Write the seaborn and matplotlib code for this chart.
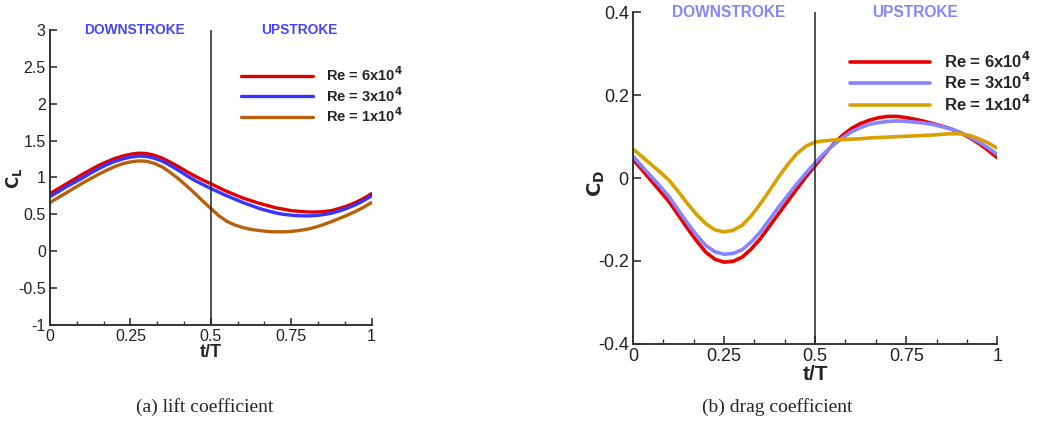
import numpy as np
import pandas as pd
import matplotlib
matplotlib.use('Agg')
import matplotlib.pyplot as plt
import seaborn as sns
from matplotlib.ticker import MultipleLocator

sns.set_style('ticks')
plt.rcParams['font.family'] = ['Liberation Sans', 'DejaVu Sans']
plt.rcParams['mathtext.default'] = 'bf'

# --- data (t/T every 0.025) ---
t = [0.0, 0.025, 0.05, 0.075, 0.10, 0.125, 0.15, 0.175, 0.20, 0.225,
     0.25, 0.275, 0.30, 0.325, 0.35, 0.375, 0.40, 0.425, 0.45, 0.475,
     0.50, 0.525, 0.55, 0.575, 0.60, 0.625, 0.65, 0.675, 0.70, 0.725,
     0.75, 0.775, 0.80, 0.825, 0.85, 0.875, 0.90, 0.925, 0.95, 0.975, 1.0]
labels = ['Re = 6x10$^4$', 'Re = 3x10$^4$', 'Re = 1x10$^4$']

# lift coefficient
cl_6e4 = [0.78, 0.845, 0.91, 0.975, 1.04, 1.10, 1.16, 1.21, 1.255, 1.29,
          1.315, 1.33, 1.325, 1.30, 1.26, 1.205, 1.145, 1.08, 1.02, 0.965,
          0.915, 0.86, 0.81, 0.765, 0.72, 0.685, 0.65, 0.62, 0.59, 0.57,
          0.55, 0.54, 0.532, 0.53, 0.537, 0.55, 0.58, 0.615, 0.66, 0.715, 0.78]
cl_3e4 = [0.74, 0.805, 0.87, 0.93, 0.99, 1.055, 1.115, 1.17, 1.215, 1.25,
          1.275, 1.29, 1.285, 1.26, 1.22, 1.16, 1.095, 1.025, 0.96, 0.905,
          0.85, 0.80, 0.75, 0.705, 0.66, 0.62, 0.58, 0.55, 0.52, 0.50,
          0.488, 0.48, 0.478, 0.483, 0.495, 0.515, 0.545, 0.585, 0.63, 0.685, 0.75]
cl_1e4 = [0.66, 0.725, 0.79, 0.855, 0.92, 0.98, 1.04, 1.095, 1.145, 1.185,
          1.21, 1.225, 1.22, 1.19, 1.14, 1.065, 0.98, 0.885, 0.785, 0.68,
          0.58, 0.48, 0.405, 0.355, 0.32, 0.295, 0.28, 0.268, 0.262, 0.262,
          0.268, 0.28, 0.298, 0.325, 0.36, 0.40, 0.445, 0.49, 0.54, 0.595, 0.66]

# drag coefficient
cd_6e4 = [0.045, 0.020, -0.006, -0.032, -0.058, -0.090, -0.122, -0.152, -0.179, -0.196,
          -0.203, -0.201, -0.191, -0.171, -0.146, -0.116, -0.086, -0.056, -0.026, 0.003,
          0.030, 0.057, 0.082, 0.103, 0.120, 0.132, 0.140, 0.146, 0.149, 0.149,
          0.146, 0.142, 0.137, 0.131, 0.125, 0.118, 0.109, 0.097, 0.083, 0.067, 0.049]
cd_3e4 = [0.053, 0.028, 0.004, -0.020, -0.046, -0.078, -0.109, -0.138, -0.163, -0.178,
          -0.184, -0.182, -0.173, -0.154, -0.130, -0.100, -0.070, -0.042, -0.014, 0.012,
          0.037, 0.060, 0.080, 0.097, 0.112, 0.122, 0.130, 0.134, 0.137, 0.138,
          0.137, 0.135, 0.133, 0.129, 0.124, 0.118, 0.110, 0.099, 0.087, 0.073, 0.057]
cd_1e4 = [0.070, 0.052, 0.033, 0.014, -0.006, -0.033, -0.062, -0.088, -0.110, -0.125,
          -0.130, -0.126, -0.114, -0.091, -0.062, -0.030, 0.003, 0.033, 0.059, 0.077,
          0.087, 0.090, 0.092, 0.093, 0.094, 0.095, 0.097, 0.098, 0.099, 0.100,
          0.101, 0.102, 0.103, 0.104, 0.106, 0.107, 0.107, 0.103, 0.095, 0.085, 0.072]

n = len(t)
df_cl = pd.DataFrame({'t': t * 3, 'val': cl_6e4 + cl_3e4 + cl_1e4,
                      'Re': [labels[0]] * n + [labels[1]] * n + [labels[2]] * n})
df_cd = pd.DataFrame({'t': t * 3, 'val': cd_6e4 + cd_3e4 + cd_1e4,
                      'Re': [labels[0]] * n + [labels[1]] * n + [labels[2]] * n})

pal_cl = dict(zip(labels, ['#e00000', '#3535ff', '#b8600c']))
pal_cd = dict(zip(labels, ['#e80000', '#8585ff', '#d8a000']))

fig = plt.figure(figsize=(10.41, 4.23), dpi=100)
ax1 = fig.add_axes([0.048, 0.232, 0.309, 0.697])
ax2 = fig.add_axes([0.608, 0.1875, 0.350, 0.783])


def style_axis(ax, fs, tl):
    sns.despine(ax=ax)
    for s in ['left', 'bottom']:
        ax.spines[s].set_linewidth(1.4)
        ax.spines[s].set_color('#333333')
    ax.set_xlim(0, 1)
    ax.set_xticks([0, 0.25, 0.5, 0.75, 1])
    ax.set_xticklabels(['0', '0.25', '0.5', '0.75', '1'])
    ax.xaxis.set_minor_locator(MultipleLocator(0.25 / 3))
    ax.tick_params(axis='both', which='major', direction='in', length=tl, width=1.2,
                   labelsize=fs, colors='#333333', labelcolor='#222222', pad=3)
    ax.tick_params(axis='x', which='minor', direction='in', length=tl * 0.6, width=1.0,
                   colors='#333333')
    ax.axvline(0.5, color='#222222', lw=1.1)


# (a) lift
sns.lineplot(data=df_cl, x='t', y='val', hue='Re', palette=pal_cl, lw=2.4, ax=ax1)
style_axis(ax1, 11.5, 5)
ax1.set_ylim(-1, 3)
ax1.set_yticks([-1, -0.5, 0, 0.5, 1, 1.5, 2, 2.5, 3])
ax1.set_yticklabels(['-1', '-0.5', '0', '0.5', '1', '1.5', '2', '2.5', '3'])
ax1.set_xlabel('t/T', fontsize=13, fontweight='bold', labelpad=0)
ax1.set_ylabel('$C_L$', fontsize=12)
ax1.yaxis.set_label_coords(-0.081, 0.497)
ax1.text(0.264, 3.0, 'DOWNSTROKE', color='#4545ff', fontsize=9.9, fontweight='bold', ha='center', va='center')
ax1.text(0.774, 3.0, 'UPSTROKE', color='#4545ff', fontsize=9.9, fontweight='bold', ha='center', va='center')
ax1.legend(frameon=False, loc='upper left', bbox_to_anchor=(0.595, 0.88), borderpad=0, borderaxespad=0,
           handlelength=4.9, handletextpad=0.9, labelspacing=0.12, prop={'weight': 'bold', 'size': 10.5})

# (b) drag
sns.lineplot(data=df_cd, x='t', y='val', hue='Re', palette=pal_cd, lw=2.6, ax=ax2)
style_axis(ax2, 13, 6)
ax2.set_ylim(-0.4, 0.4)
ax2.set_yticks([-0.4, -0.2, 0, 0.2, 0.4])
ax2.set_yticklabels(['-0.4', '-0.2', '0', '0.2', '0.4'])
ax2.set_xlabel('t/T', fontsize=15, fontweight='bold', labelpad=0)
ax2.set_ylabel('$C_D$', fontsize=14)
ax2.yaxis.set_label_coords(-0.071, 0.485)
ax2.text(0.264, 0.4, 'DOWNSTROKE', color='#8585ff', fontsize=11.2, fontweight='bold', ha='center', va='center')
ax2.text(0.774, 0.4, 'UPSTROKE', color='#8585ff', fontsize=11.2, fontweight='bold', ha='center', va='center')
ax2.legend(frameon=False, loc='upper left', bbox_to_anchor=(0.595, 0.885), borderpad=0, borderaxespad=0,
           handlelength=4.84, handletextpad=0.84, labelspacing=0.08, prop={'weight': 'bold', 'size': 12})

fig.text(205 / 1041, 1 - 407 / 423, '(a) lift coefficient', family='Liberation Serif', fontsize=14,
         ha='center', va='center')
fig.text(777 / 1041, 1 - 407 / 423, '(b) drag coefficient', family='Liberation Serif', fontsize=14,
         ha='center', va='center')

fig.savefig('out.png', dpi=100)
